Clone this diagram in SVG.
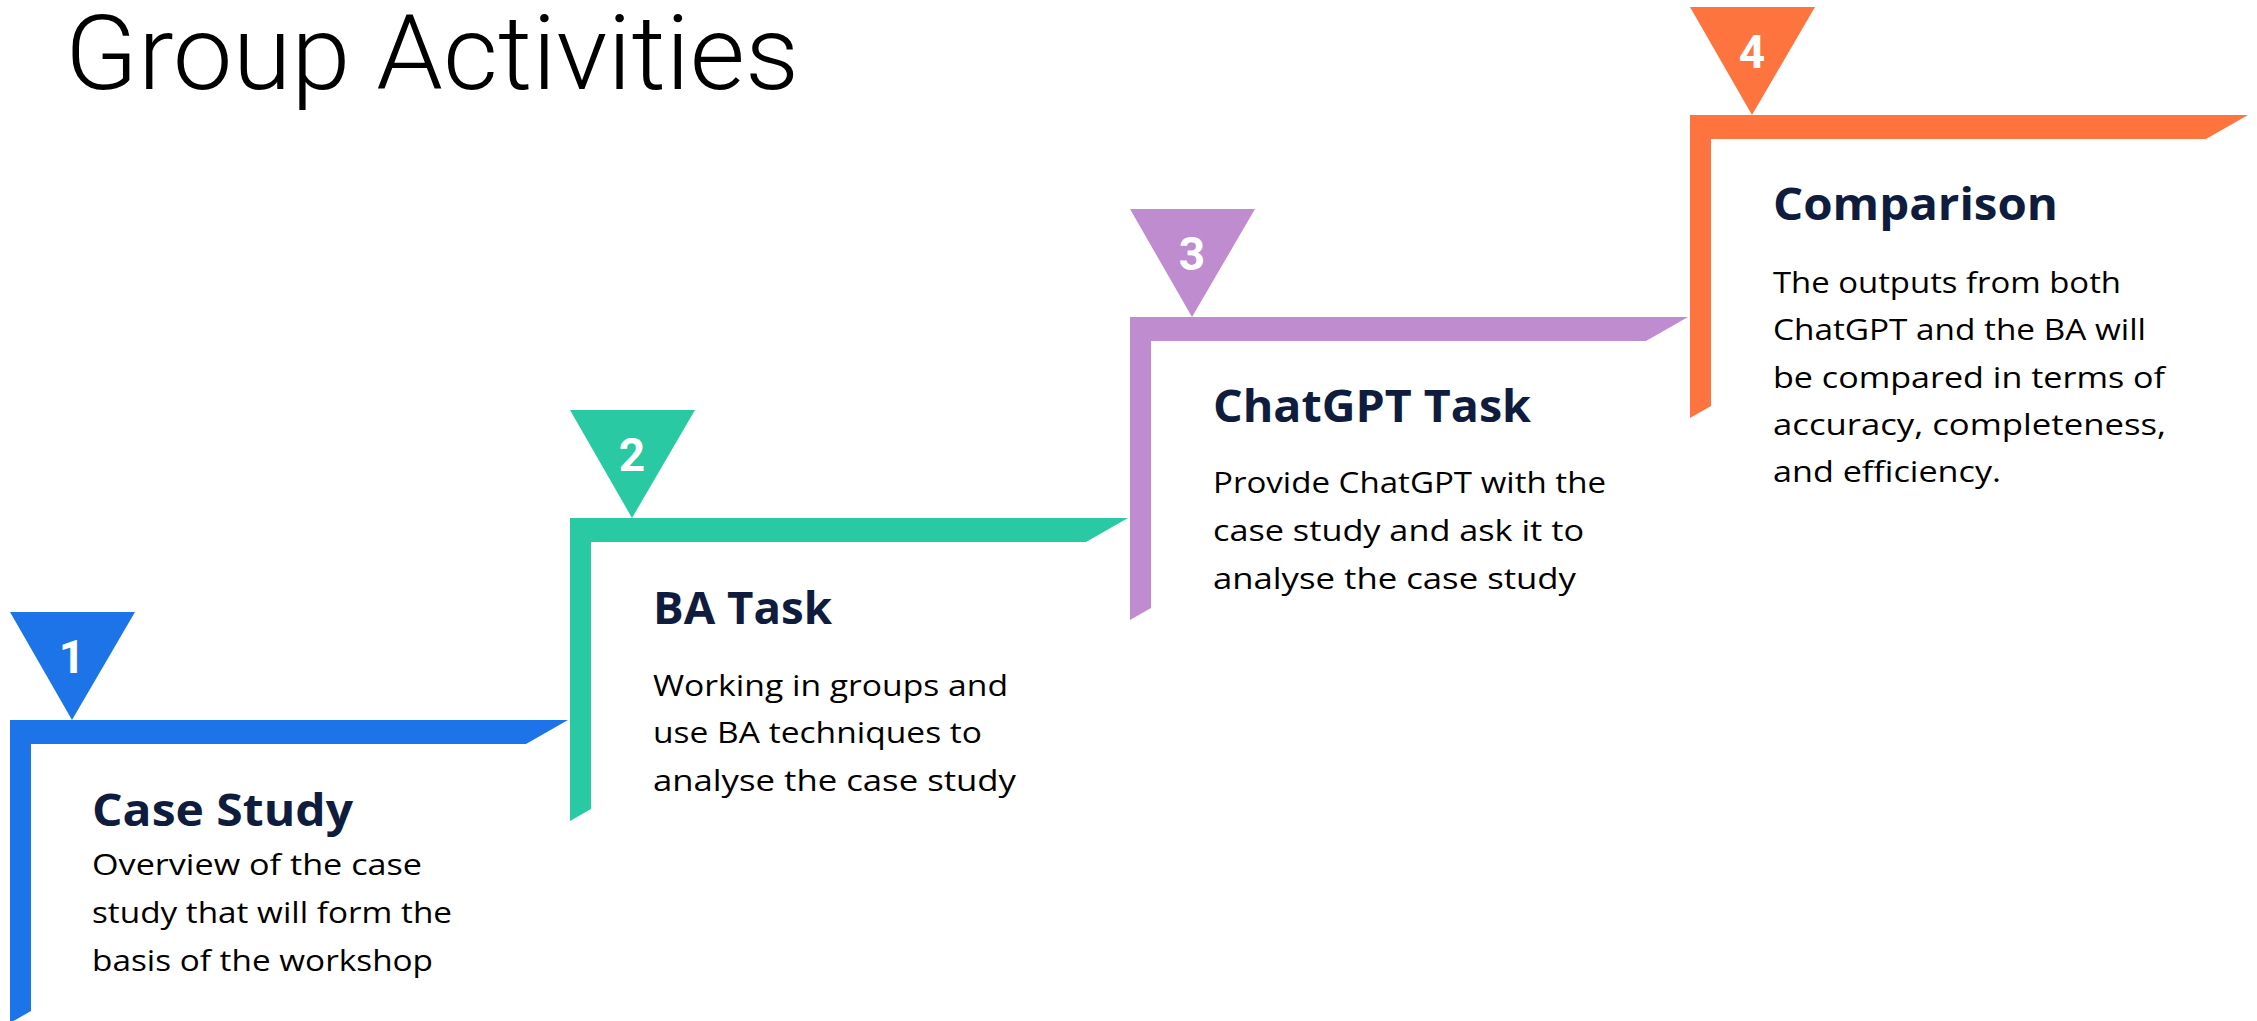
<svg xmlns="http://www.w3.org/2000/svg" width="2257" height="1021" viewBox="0 0 2257 1021">
<style>
.title{font-family:Roboto,"Liberation Sans",sans-serif;font-weight:300;font-size:104px;fill:#000}
.num{font-family:Roboto,"Liberation Sans",sans-serif;font-weight:700;font-size:46px;fill:#fff;text-anchor:middle}
.head{font-family:"Open Sans","Liberation Sans",sans-serif;font-weight:700;font-size:44px;fill:#0f1c3d}
.body{font-family:"Open Sans","Liberation Sans",sans-serif;font-weight:400;font-size:30px;fill:#000}
.blue{fill:#1d74e9}.green{fill:#29c9a4}.purple{fill:#be8ccf}.orange{fill:#fe743e}
</style>
<rect width="2257" height="1021" fill="#fff"/>
<text class="title" x="65" y="89" textLength="734" lengthAdjust="spacingAndGlyphs">Group Activities</text>
<g id="connectors"/>
<g id="step1">
<path class="blue" d="M10 720 H568 L526 744 H31 V1011 L10 1023 Z"/>
<path class="blue" d="M10 612 H135 L72 720 Z"/>
<text class="num" x="72" y="673">1</text>
<text class="head" x="92" y="826" textLength="261" lengthAdjust="spacingAndGlyphs">Case Study</text>
<text class="body" x="92" y="875" textLength="330" lengthAdjust="spacingAndGlyphs">Overview of the case</text>
<text class="body" x="92" y="923" textLength="360" lengthAdjust="spacingAndGlyphs">study that will form the</text>
<text class="body" x="92" y="971" textLength="341" lengthAdjust="spacingAndGlyphs">basis of the workshop</text>
</g>
<g id="step2">
<path class="green" d="M570 518 H1128 L1086 542 H591 V809 L570 821 Z"/>
<path class="green" d="M570 410 H695 L632 518 Z"/>
<text class="num" x="632" y="471">2</text>
<text class="head" x="653" y="624" textLength="179" lengthAdjust="spacingAndGlyphs">BA Task</text>
<text class="body" x="653" y="696" textLength="355" lengthAdjust="spacingAndGlyphs">Working in groups and</text>
<text class="body" x="653" y="743" textLength="329" lengthAdjust="spacingAndGlyphs">use BA techniques to</text>
<text class="body" x="653" y="791" textLength="363" lengthAdjust="spacingAndGlyphs">analyse the case study</text>
</g>
<g id="step3">
<path class="purple" d="M1130 317 H1688 L1646 341 H1151 V608 L1130 620 Z"/>
<path class="purple" d="M1130 209 H1255 L1192 317 Z"/>
<text class="num" x="1192" y="270">3</text>
<text class="head" x="1213" y="422" textLength="318" lengthAdjust="spacingAndGlyphs">ChatGPT Task</text>
<text class="body" x="1213" y="493" textLength="393" lengthAdjust="spacingAndGlyphs">Provide ChatGPT with the</text>
<text class="body" x="1213" y="541" textLength="371" lengthAdjust="spacingAndGlyphs">case study and ask it to</text>
<text class="body" x="1213" y="589" textLength="363" lengthAdjust="spacingAndGlyphs">analyse the case study</text>
</g>
<g id="step4">
<path class="orange" d="M1690 115 H2248 L2206 139 H1711 V406 L1690 418 Z"/>
<path class="orange" d="M1690 7 H1815 L1752 115 Z"/>
<text class="num" x="1752" y="68">4</text>
<text class="head" x="1773" y="220" textLength="285" lengthAdjust="spacingAndGlyphs">Comparison</text>
<text class="body" x="1773" y="293" textLength="348" lengthAdjust="spacingAndGlyphs">The outputs from both</text>
<text class="body" x="1773" y="340" textLength="373" lengthAdjust="spacingAndGlyphs">ChatGPT and the BA will</text>
<text class="body" x="1773" y="388" textLength="392" lengthAdjust="spacingAndGlyphs">be compared in terms of</text>
<text class="body" x="1773" y="435" textLength="393" lengthAdjust="spacingAndGlyphs">accuracy, completeness,</text>
<text class="body" x="1773" y="482" textLength="228" lengthAdjust="spacingAndGlyphs">and efficiency.</text>
</g>
</svg>
